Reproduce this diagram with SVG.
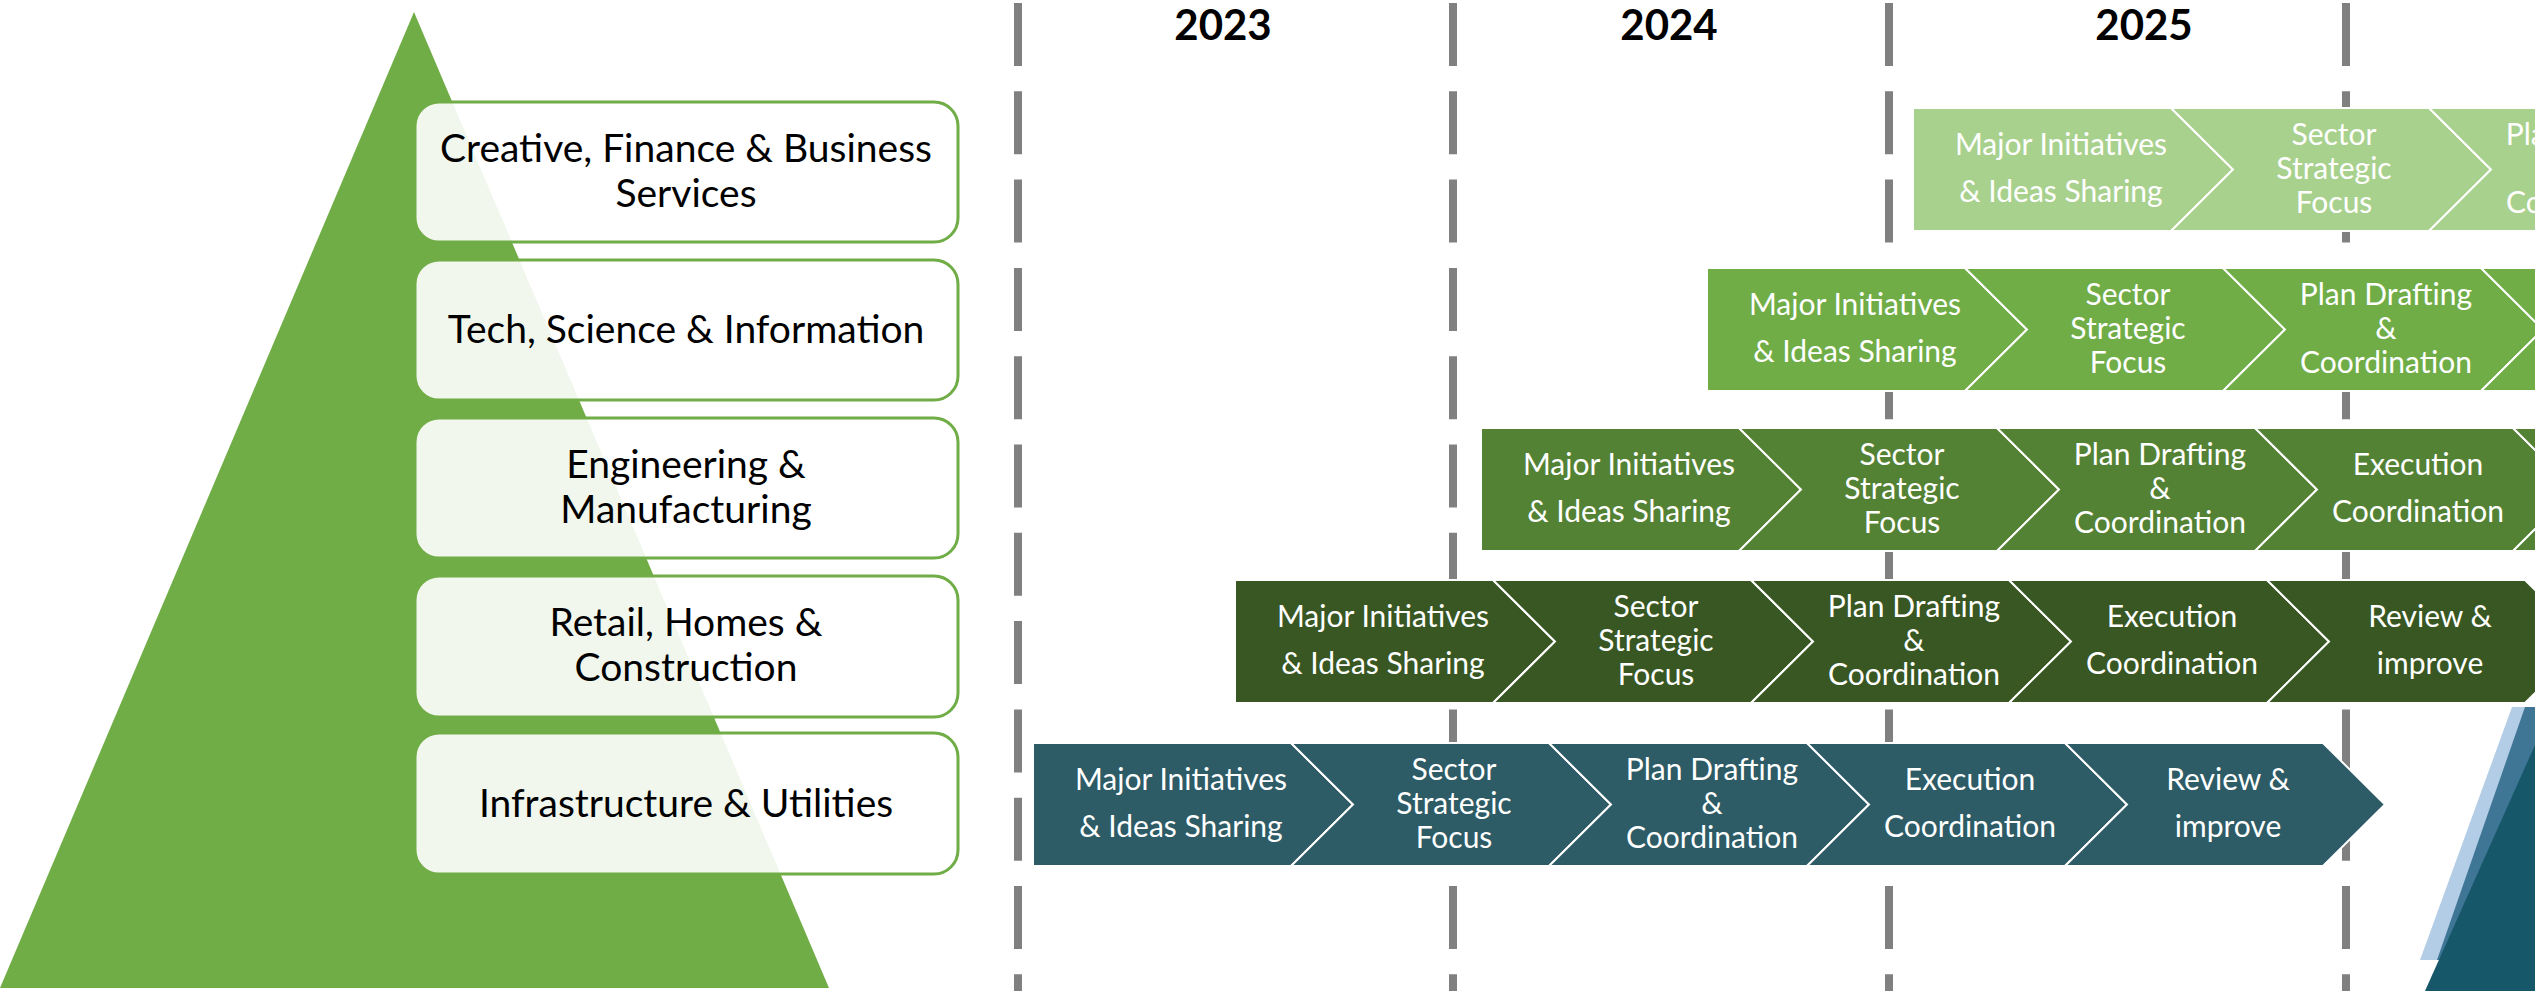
<svg xmlns="http://www.w3.org/2000/svg" xmlns:xlink="http://www.w3.org/1999/xlink" width="2535" height="991" viewBox="0 0 2535 991">
<style>
.grid{stroke:#808080;stroke-width:8;stroke-dasharray:63 25.3;fill:none}
.year{font-family:Lato,"Open Sans",sans-serif;font-weight:700;font-size:42px;fill:#000;text-anchor:middle}
.box{fill:#fff;fill-opacity:0.9;stroke:#70AD47;stroke-width:3}
.bt{font-family:Lato,"Open Sans",sans-serif;font-size:39px;fill:#000;text-anchor:middle}
.seg{stroke:#fff;stroke-width:2}
.ct{font-family:Lato,"Open Sans",sans-serif;font-size:30px;fill:#fff;text-anchor:middle}
.r1{fill:#A9D18E}.r2{fill:#70AD47}.r3{fill:#548235}.r4{fill:#385723}.r5{fill:#2D5B66}
</style>
<defs>
<path id="pent" d="M0,0 H258 L320,61.5 L258,123 H0 Z"/>
<path id="chev" d="M0,0 H258 L320,61.5 L258,123 H0 L62,61.5 Z"/>
</defs>
<rect width="2535" height="991" fill="#fff"/>

<g id="pyramid">
<polygon points="414,12 0,988 829,988" fill="#70AD47"/>
</g>

<g id="gridlines">
<line class="grid" x1="1018" y1="3" x2="1018" y2="991"/>
<line class="grid" x1="1453" y1="3" x2="1453" y2="991"/>
<line class="grid" x1="1889" y1="3" x2="1889" y2="991"/>
<line class="grid" x1="2346" y1="3" x2="2346" y2="991"/>
</g>

<g id="years">
<text class="year" x="1223" y="40">2023</text>
<text class="year" x="1669" y="40">2024</text>
<text class="year" x="2144" y="40">2025</text>
</g>

<g id="box-creative">
<rect class="box" x="415" y="102" width="543" height="140" rx="24"/>
<text class="bt" x="686" y="162">Creative, Finance &amp; Business</text>
<text class="bt" x="686" y="207">Services</text>
</g>
<g id="box-tech">
<rect class="box" x="415" y="260" width="543" height="140" rx="24"/>
<text class="bt" x="686" y="343">Tech, Science &amp; Information</text>
</g>
<g id="box-engineering">
<rect class="box" x="415" y="418" width="543" height="140" rx="24"/>
<text class="bt" x="686" y="478">Engineering &amp;</text>
<text class="bt" x="686" y="523">Manufacturing</text>
</g>
<g id="box-retail">
<rect class="box" x="415" y="576" width="543" height="141" rx="24"/>
<text class="bt" x="686" y="636">Retail, Homes &amp;</text>
<text class="bt" x="686" y="681">Construction</text>
</g>
<g id="box-infra">
<rect class="box" x="415" y="733" width="543" height="141" rx="24"/>
<text class="bt" x="686" y="817">Infrastructure &amp; Utilities</text>
</g>

<g id="row-creative">
<use href="#pent" class="seg r1" x="1913" y="108"/>
<use href="#chev" class="seg r1" x="2171" y="108"/>
<use href="#chev" class="seg r1" x="2429" y="108"/>
<text class="ct" x="2061" y="155">Major Initiatives</text>
<text class="ct" x="2061" y="202">&amp; Ideas Sharing</text>
<text class="ct" x="2334" y="145">Sector</text>
<text class="ct" x="2334" y="179">Strategic</text>
<text class="ct" x="2334" y="213">Focus</text>
<text class="ct" x="2592" y="145">Plan Drafting</text>
<text class="ct" x="2592" y="179">&amp;</text>
<text class="ct" x="2592" y="213">Coordination</text>
</g>

<g id="row-tech">
<use href="#pent" class="seg r2" x="1707" y="268"/>
<use href="#chev" class="seg r2" x="1965" y="268"/>
<use href="#chev" class="seg r2" x="2223" y="268"/>
<use href="#chev" class="seg r2" x="2481" y="268"/>
<text class="ct" x="1855" y="315">Major Initiatives</text>
<text class="ct" x="1855" y="362">&amp; Ideas Sharing</text>
<text class="ct" x="2128" y="305">Sector</text>
<text class="ct" x="2128" y="339">Strategic</text>
<text class="ct" x="2128" y="373">Focus</text>
<text class="ct" x="2386" y="305">Plan Drafting</text>
<text class="ct" x="2386" y="339">&amp;</text>
<text class="ct" x="2386" y="373">Coordination</text>
</g>

<g id="row-engineering">
<use href="#pent" class="seg r3" x="1481" y="428"/>
<use href="#chev" class="seg r3" x="1739" y="428"/>
<use href="#chev" class="seg r3" x="1997" y="428"/>
<use href="#chev" class="seg r3" x="2255" y="428"/>
<use href="#chev" class="seg r3" x="2513" y="428"/>
<text class="ct" x="1629" y="475">Major Initiatives</text>
<text class="ct" x="1629" y="522">&amp; Ideas Sharing</text>
<text class="ct" x="1902" y="465">Sector</text>
<text class="ct" x="1902" y="499">Strategic</text>
<text class="ct" x="1902" y="533">Focus</text>
<text class="ct" x="2160" y="465">Plan Drafting</text>
<text class="ct" x="2160" y="499">&amp;</text>
<text class="ct" x="2160" y="533">Coordination</text>
<text class="ct" x="2418" y="475">Execution</text>
<text class="ct" x="2418" y="522">Coordination</text>
</g>

<g id="row-retail">
<use href="#pent" class="seg r4" x="1235" y="580"/>
<use href="#chev" class="seg r4" x="1493" y="580"/>
<use href="#chev" class="seg r4" x="1751" y="580"/>
<use href="#chev" class="seg r4" x="2009" y="580"/>
<use href="#chev" class="seg r4" x="2267" y="580"/>
<text class="ct" x="1383" y="627">Major Initiatives</text>
<text class="ct" x="1383" y="674">&amp; Ideas Sharing</text>
<text class="ct" x="1656" y="617">Sector</text>
<text class="ct" x="1656" y="651">Strategic</text>
<text class="ct" x="1656" y="685">Focus</text>
<text class="ct" x="1914" y="617">Plan Drafting</text>
<text class="ct" x="1914" y="651">&amp;</text>
<text class="ct" x="1914" y="685">Coordination</text>
<text class="ct" x="2172" y="627">Execution</text>
<text class="ct" x="2172" y="674">Coordination</text>
<text class="ct" x="2430" y="627">Review &amp;</text>
<text class="ct" x="2430" y="674">improve</text>
</g>

<g id="row-infra">
<use href="#pent" class="seg r5" x="1033" y="743"/>
<use href="#chev" class="seg r5" x="1291" y="743"/>
<use href="#chev" class="seg r5" x="1549" y="743"/>
<use href="#chev" class="seg r5" x="1807" y="743"/>
<use href="#chev" class="seg r5" x="2065" y="743"/>
<text class="ct" x="1181" y="790">Major Initiatives</text>
<text class="ct" x="1181" y="837">&amp; Ideas Sharing</text>
<text class="ct" x="1454" y="780">Sector</text>
<text class="ct" x="1454" y="814">Strategic</text>
<text class="ct" x="1454" y="848">Focus</text>
<text class="ct" x="1712" y="780">Plan Drafting</text>
<text class="ct" x="1712" y="814">&amp;</text>
<text class="ct" x="1712" y="848">Coordination</text>
<text class="ct" x="1970" y="790">Execution</text>
<text class="ct" x="1970" y="837">Coordination</text>
<text class="ct" x="2228" y="790">Review &amp;</text>
<text class="ct" x="2228" y="837">improve</text>
</g>

<g id="decor">
<polygon points="2512,707 2535,707 2535,960 2420,960" fill="#B4CDE6"/>
<polygon points="2525,707 2535,707 2535,960 2437,960" fill="#3F7696"/>
<polygon points="2535,745 2535,991 2425,991" fill="#16586A"/>
</g>
</svg>
